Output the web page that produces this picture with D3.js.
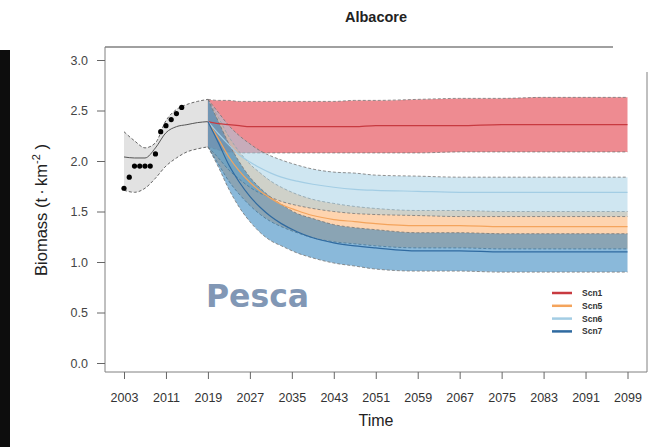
<!DOCTYPE html>
<html><head><meta charset="utf-8">
<script src="https://cdn.jsdelivr.net/npm/d3@7/dist/d3.min.js"></script>
<style>
body{margin:0;background:#fff;}
svg{display:block;font-family:"Liberation Sans",Arial,sans-serif;}
</style></head>
<body><svg id="c" width="666" height="447"></svg>
<script>
// ---- data ----
const obsYears = [2003, 2004, 2005, 2006, 2007, 2008, 2009, 2010, 2011, 2012, 2013, 2014];
const obsValues = [1.73, 1.84, 1.95, 1.95, 1.95, 1.95, 2.07, 2.29, 2.35, 2.41, 2.47, 2.53];

const histYears = [2003, 2005, 2007, 2009, 2011, 2013, 2015, 2017, 2019];
const histMean  = [2.04, 2.03, 2.03, 2.13, 2.28, 2.34, 2.36, 2.38, 2.39];
const histUpper = [2.29, 2.20, 2.13, 2.18, 2.40, 2.51, 2.56, 2.59, 2.61];
const histLower = [1.71, 1.69, 1.73, 1.83, 1.95, 2.03, 2.09, 2.12, 2.14];

const projYears = [2019, 2021, 2023, 2025, 2027, 2029, 2031, 2033, 2036, 2039, 2043, 2047, 2051, 2059, 2067, 2075, 2083, 2099];

const scenarios = ["Scn1", "Scn5", "Scn6", "Scn7"];
const scn1Mean  = [2.39, 2.37, 2.36, 2.35, 2.34, 2.34, 2.34, 2.34, 2.34, 2.34, 2.34, 2.34, 2.35, 2.35, 2.35, 2.36, 2.36, 2.36];
const scn1Upper = [2.61, 2.60, 2.60, 2.59, 2.59, 2.59, 2.59, 2.59, 2.59, 2.59, 2.59, 2.60, 2.60, 2.61, 2.62, 2.62, 2.63, 2.63];
const scn1Lower = [2.14, 2.11, 2.09, 2.08, 2.08, 2.08, 2.08, 2.08, 2.08, 2.08, 2.08, 2.08, 2.08, 2.08, 2.09, 2.09, 2.09, 2.09];

const scn5Mean  = [2.39, 2.22, 2.04, 1.90, 1.79, 1.70, 1.63, 1.57, 1.51, 1.46, 1.42, 1.40, 1.38, 1.36, 1.36, 1.35, 1.35, 1.35];
const scn5Upper = [2.61, 2.43, 2.24, 2.09, 1.97, 1.88, 1.80, 1.74, 1.67, 1.62, 1.58, 1.55, 1.53, 1.51, 1.51, 1.50, 1.50, 1.50];
const scn5Lower = [2.14, 1.97, 1.80, 1.67, 1.56, 1.47, 1.40, 1.35, 1.29, 1.24, 1.20, 1.18, 1.16, 1.14, 1.14, 1.13, 1.13, 1.13];

const scn6Mean  = [2.39, 2.27, 2.16, 2.06, 1.99, 1.93, 1.88, 1.84, 1.80, 1.77, 1.74, 1.72, 1.71, 1.70, 1.69, 1.69, 1.69, 1.69];
const scn6Upper = [2.61, 2.48, 2.35, 2.25, 2.17, 2.10, 2.05, 2.01, 1.96, 1.92, 1.89, 1.88, 1.86, 1.85, 1.84, 1.84, 1.84, 1.84];
const scn6Lower = [2.14, 2.03, 1.91, 1.82, 1.74, 1.68, 1.64, 1.60, 1.56, 1.53, 1.50, 1.48, 1.47, 1.46, 1.45, 1.45, 1.45, 1.45];

const scn7Mean  = [2.39, 2.18, 1.96, 1.79, 1.65, 1.54, 1.45, 1.38, 1.30, 1.24, 1.19, 1.16, 1.14, 1.11, 1.11, 1.10, 1.10, 1.10];
const scn7Upper = [2.61, 2.39, 2.17, 1.99, 1.84, 1.73, 1.64, 1.57, 1.48, 1.43, 1.37, 1.34, 1.32, 1.29, 1.29, 1.28, 1.28, 1.28];
const scn7Lower = [2.14, 1.94, 1.72, 1.54, 1.40, 1.29, 1.21, 1.16, 1.09, 1.04, 0.99, 0.96, 0.93, 0.91, 0.91, 0.90, 0.90, 0.90];

const xTicks = [2003, 2011, 2019, 2027, 2035, 2043, 2051, 2059, 2067, 2075, 2083, 2091, 2099];
const yTicks = [0.0, 0.5, 1.0, 1.5, 2.0, 2.5, 3.0];

// ---- drawing ----
const svg = d3.select("#c");
const x = d3.scaleLinear().domain([2003, 2099]).range([124, 627.5]);
const y = d3.scaleLinear().domain([0, 3]).range([363, 60]);

const fills = {Scn1: "rgba(224,44,54,0.55)", Scn5: "rgba(253,170,95,0.5)", Scn6: "rgba(160,205,228,0.5)", Scn7: "rgba(31,120,185,0.52)"};
const lines = {Scn1: "#c83a40", Scn5: "#f4a45c", Scn6: "#a3cde4", Scn7: "#2f6aa0"};
const series = {
  Scn1: [scn1Mean, scn1Upper, scn1Lower],
  Scn5: [scn5Mean, scn5Upper, scn5Lower],
  Scn6: [scn6Mean, scn6Upper, scn6Lower],
  Scn7: [scn7Mean, scn7Upper, scn7Lower]
};

// left black strip
svg.append("rect").attr("x", 0).attr("y", 50).attr("width", 10).attr("height", 397).attr("fill", "#0d0d0d");

const curve = d3.curveMonotoneX;
const area = (ys, up, lo) => d3.area().curve(curve).x((d, i) => x(ys[i])).y0((d, i) => y(lo[i])).y1((d, i) => y(up[i]));
const line = (ys, v) => d3.line().curve(curve).x((d, i) => x(ys[i])).y((d, i) => y(v[i]));

// historical band
svg.append("path").datum(histYears).attr("d", area(histYears, histUpper, histLower)).attr("fill", "#e2e2e2");
[histUpper, histLower].forEach(v => svg.append("path").datum(histYears).attr("d", line(histYears, v))
  .attr("fill", "none").attr("stroke", "#666").attr("stroke-width", 1).attr("stroke-dasharray", "3,2"));
svg.append("path").datum(histYears).attr("d", line(histYears, histMean)).attr("fill", "none").attr("stroke", "#555").attr("stroke-width", 1);

// scenario bands
scenarios.forEach(s => {
  const [m, u, l] = series[s];
  svg.append("path").datum(projYears).attr("d", area(projYears, u, l)).attr("fill", fills[s]);
  [u, l].forEach(v => svg.append("path").datum(projYears).attr("d", line(projYears, v))
    .attr("fill", "none").attr("stroke", "#777").attr("stroke-width", 1).attr("stroke-dasharray", "3,2").attr("opacity", 0.8));
});
scenarios.forEach(s => {
  const [m] = series[s];
  svg.append("path").datum(projYears).attr("d", line(projYears, m)).attr("fill", "none").attr("stroke", lines[s]).attr("stroke-width", 1.2);
});

// observations
svg.selectAll("circle.obs").data(obsYears).enter().append("circle")
  .attr("cx", (d) => x(d)).attr("cy", (d, i) => y(obsValues[i])).attr("r", 2.6).attr("fill", "#000");

// frame
const fc = "#808080";
svg.append("line").attr("x1", 105).attr("x2", 105).attr("y1", 47).attr("y2", 372).attr("stroke", fc);
svg.append("line").attr("x1", 105).attr("x2", 647).attr("y1", 372).attr("y2", 372).attr("stroke", fc);
svg.append("line").attr("x1", 105).attr("x2", 613).attr("y1", 47).attr("y2", 47).attr("stroke", fc).attr("stroke-width", 1.3);
svg.append("line").attr("x1", 647).attr("x2", 647).attr("y1", 72).attr("y2", 372).attr("stroke", fc);

// axes
const xa = svg.append("g").attr("transform", "translate(0,372)")
  .call(d3.axisBottom(x).tickValues(xTicks).tickFormat(d3.format("d")).tickSize(7).tickPadding(14));
xa.select(".domain").remove();
xa.selectAll("line").attr("stroke", "#666");
xa.selectAll("text").attr("font-size", 12.5).attr("fill", "#333").attr("font-family", "Liberation Sans, Arial, sans-serif");

const ya = svg.append("g").attr("transform", "translate(105,0)")
  .call(d3.axisLeft(y).tickValues(yTicks).tickFormat(d3.format(".1f")).tickSize(8).tickPadding(9));
ya.select(".domain").remove();
ya.selectAll("line").attr("stroke", "#666");
ya.selectAll("text").attr("font-size", 12.5).attr("fill", "#444").attr("font-family", "Liberation Sans, Arial, sans-serif");

// titles
svg.append("text").attr("x", 376).attr("y", 22).attr("text-anchor", "middle").attr("font-weight", "bold").attr("font-size", 14.5).attr("fill", "#222").text("Albacore");
svg.append("text").attr("x", 376).attr("y", 426).attr("text-anchor", "middle").attr("font-size", 16).attr("fill", "#222").text("Time");
const yl = svg.append("text").attr("transform", "translate(47,210) rotate(-90)").attr("text-anchor", "middle").attr("font-size", 16.5).attr("fill", "#222");
yl.append("tspan").text("Biomass (t\u2009\u00b7\u2009km");
yl.append("tspan").attr("font-size", 11).attr("dy", -7).text("-2");
yl.append("tspan").attr("dy", 7).text(" )");

// Pesca label
svg.append("text").attr("x", 206).attr("y", 307).attr("font-family", "DejaVu Sans, sans-serif").attr("font-weight", "bold").attr("font-size", 31.5).attr("fill", "#8197b5").text("Pesca");

// legend
const lg = svg.append("g");
scenarios.forEach((s, i) => {
  const yy = 293 + i * 12.8;
  lg.append("line").attr("x1", 552).attr("x2", 572).attr("y1", yy).attr("y2", yy).attr("stroke", lines[s]).attr("stroke-width", 2.5);
  lg.append("text").attr("x", 582).attr("y", yy + 3).attr("font-size", 8.5).attr("font-weight", "bold").attr("fill", "#333").text(s);
});
</script></body></html>
